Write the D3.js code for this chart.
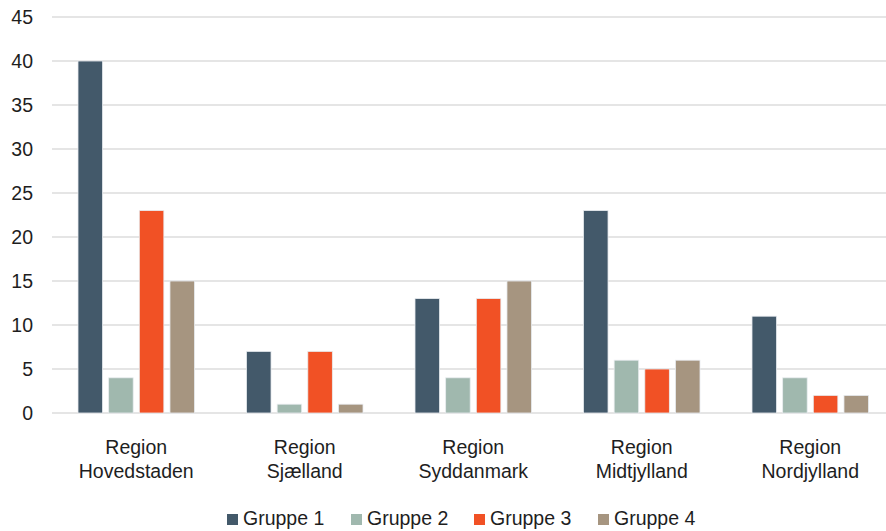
<!DOCTYPE html>
<html>
<head>
  <meta charset="UTF-8">
  <title>Regioner</title>
  <script src="https://d3js.org/d3.v7.min.js"></script>
  <style>
    body { margin: 0; background: #fff; }
    text { font-family: "Liberation Sans", Arial, sans-serif; fill: #1e1e1e; }
  </style>
</head>
<body>
  <svg width="886" height="531"></svg>

  <script>
    const regions = ["Region Hovedstaden", "Region Sjælland", "Region Syddanmark", "Region Midtjylland", "Region Nordjylland"];
    const groups = ["Gruppe 1", "Gruppe 2", "Gruppe 3", "Gruppe 4"];
    const gruppe1 = [40, 7, 13, 23, 11];
    const gruppe2 = [4, 1, 4, 6, 4];
    const gruppe3 = [23, 7, 13, 5, 2];
    const gruppe4 = [15, 1, 15, 6, 2];
    const yTicks = [0, 5, 10, 15, 20, 25, 30, 35, 40, 45];
    const colors = ["#43596a", "#a0b8ae", "#f15125", "#a69580"];

    const series = [gruppe1, gruppe2, gruppe3, gruppe4];
    const svg = d3.select("svg");

    const x = d3.scaleBand().domain(regions).range([52, 894.5]).paddingInner(0).paddingOuter(0);
    const xInner = d3.scaleBand().domain(groups).range([26, 142.5]).paddingInner(0.2);
    const y = d3.scaleLinear().domain([0, 45]).range([413, 17]);

    // grid
    svg.append("g")
      .selectAll("line")
      .data(yTicks)
      .join("line")
      .attr("x1", 52)
      .attr("x2", 886)
      .attr("y1", d => y(d))
      .attr("y2", d => y(d))
      .attr("stroke", "#dcdcdc")
      .attr("stroke-width", 1.5);

    // y labels
    svg.append("g")
      .attr("font-size", 19.5)
      .attr("text-anchor", "end")
      .selectAll("text")
      .data(yTicks)
      .join("text")
      .attr("x", 33)
      .attr("y", d => y(d) + 7)
      .text(d => d);

    // bars
    const rows = [];
    regions.forEach((r, i) => groups.forEach((g, j) => rows.push({ r, g, j, v: series[j][i] })));

    svg.append("g")
      .selectAll("rect")
      .data(rows)
      .join("rect")
      .attr("x", d => x(d.r) + xInner(d.g))
      .attr("y", d => y(d.v))
      .attr("width", xInner.bandwidth())
      .attr("height", d => y(0) - y(d.v))
      .attr("fill", d => colors[d.j])
      .attr("stroke", "#e8ecef")
      .attr("stroke-width", 0.8);

    // category labels
    const cat = svg.append("g")
      .attr("font-size", 19.5)
      .attr("text-anchor", "middle")
      .selectAll("text")
      .data(regions)
      .join("text")
      .attr("x", d => x(d) + x.bandwidth() / 2)
      .attr("y", 454);
    cat.append("tspan")
      .attr("x", d => x(d) + x.bandwidth() / 2)
      .text(d => d.split(" ")[0]);
    cat.append("tspan")
      .attr("x", d => x(d) + x.bandwidth() / 2)
      .attr("dy", 24)
      .text(d => d.split(" ")[1]);

    // legend
    const legendX = [227, 351, 474, 598];
    const leg = svg.append("g")
      .selectAll("g")
      .data(groups)
      .join("g")
      .attr("transform", (d, i) => `translate(${legendX[i]},514)`);
    leg.append("rect")
      .attr("width", 11)
      .attr("height", 11)
      .attr("fill", (d, i) => colors[i]);
    leg.append("text")
      .attr("x", 16)
      .attr("y", 11)
      .attr("font-size", 19.5)
      .text(d => d);
  </script>
</body>
</html>
